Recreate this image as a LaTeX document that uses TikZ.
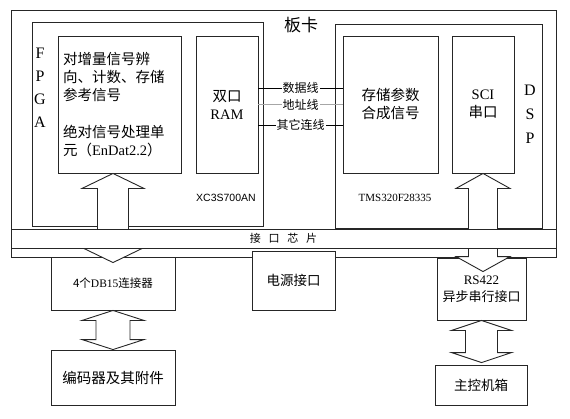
\documentclass[tikz,border=0pt]{standalone}
\usepackage{fontspec}
\setmainfont{Liberation Serif}
\setsansfont{Liberation Sans}
\newfontfamily\cjk{Noto Sans CJK SC}
\usetikzlibrary{calc}

\begin{document}
\begin{tikzpicture}[x=1pt,y=-1pt,line width=.9pt,
 box/.style 2 args={draw=black!85,fill=white,inner sep=0pt,align=center,
  minimum width=#1,minimum height=#2,font=\cjk\fontsize{14.5}{18}\selectfont},
 lbl/.style={fill=white,inner sep=1pt,font=\cjk\fontsize{12}{14}\selectfont},
 chip/.style={inner sep=0pt,font=\fontsize{11}{13}\selectfont},
 letters/.style={align=center,inner sep=0pt,font=\fontsize{16}{#1}\selectfont},
 bigarr/.style n args={3}{draw=black!85,fill=white,
  to path={let \p1=(\tikztostart),\p2=(\tikztotarget) in
   (\p1) -- (\x1-#1,\y1-#3) -- (\x1-#2,\y1-#3) -- (\x1-#2,\y2+#3) -- (\x1-#1,\y2+#3)
   -- (\x1,\y2) -- (\x1+#1,\y2+#3) -- (\x1+#2,\y2+#3) -- (\x1+#2,\y1-#3)
   -- (\x1+#1,\y1-#3) -- cycle}}]
\useasboundingbox (0,0) rectangle (570,418);
% board and the two chips
\node[box={545pt}{247pt}] (board) at (283.5,133.5) {};
\node[box={231pt}{204pt}] (fpga) at (147.5,124) {};
\node[box={207pt}{204pt}] (dsp) at (438.5,126) {};
\node[font=\cjk\fontsize{17}{20}\selectfont] (boardlbl) at (301,25) {板卡};
\node[letters=23pt] (fpgalbl) at (40,87.5) {F\\P\\G\\A};
\node[letters=24pt] (dsplbl) at (530,114) {D\\S\\P};
% blocks inside the chips
\node[box={123pt}{137pt},text width=113pt,align=left] (inc) at (119.5,104.5)
 {对增量信号辨\\向、计数、存储\\参考信号\\[19pt]绝对信号处理单\\元（{\rmfamily EnDat2.2}）};
\node[box={62pt}{137pt}] (ram) at (227,104.5) {双口\\{\rmfamily RAM}};
\node[box={95pt}{137pt}] (calc) at (390.5,104.5) {存储参数\\合成信号};
\node[box={62pt}{137pt}] (sci) at (483,104.5) {{\rmfamily SCI}\\串口};
\node[chip,font=\sffamily\fontsize{10.5}{12}\selectfont] (xc) at (226,198) {XC3S700AN};
\node[chip] (tms) at (395,198) {TMS320F28335};
% buses between RAM and DSP
\draw ([yshift=16.5pt]ram.east) -- node[lbl] {数据线} ([yshift=16.5pt]calc.west);
\draw[gray!70] (ram.east) -- node[lbl,text=black] {地址线} (calc.west);
\draw ([yshift=-20.5pt]ram.east) -- node[lbl] {其它连线} ([yshift=-20.5pt]calc.west);
% outside the board
\node[box={124pt}{53pt},font=\cjk\fontsize{11.5}{14}\selectfont] (db) at (113,283.5) {4个{\rmfamily DB15}连接器};
\node[box={124pt}{55pt}] (enc) at (113,377.5) {编码器及其附件};
\node[box={83pt}{59pt},font=\cjk\fontsize{13.5}{16}\selectfont] (pwr) at (293.5,280.5) {电源接口};
\node[box={89pt}{62pt},font=\cjk\fontsize{13}{17}\selectfont] (rs) at (481.5,289) {{\rmfamily RS422}\\异步串行接口};
\node[box={92pt}{40pt},font=\cjk\fontsize{13.5}{16}\selectfont] (host) at (481,385) {主控机箱};
% hollow arrows
\draw[bigarr={31pt}{15.5pt}{15pt}] (db.north |- inc.south) to ([yshift=-6pt]db.north);
\draw[bigarr={27pt}{14.5pt}{15pt}] (sci.south) to ([yshift=-14pt]rs.north);
\draw[bigarr={31pt}{17pt}{10pt}] (db.south) to (enc.north);
\draw[bigarr={30pt}{16pt}{10pt}] (rs.south) to ([yshift=2pt]host.north);
% interface chip band across the board
\node[box={545pt}{19pt},font=\cjk\fontsize{11}{13}\selectfont] (band) at (283.5,238.5)
 {接\hspace{.7em}口\hspace{.7em}芯\hspace{.7em}片};
\end{tikzpicture}
\end{document}
